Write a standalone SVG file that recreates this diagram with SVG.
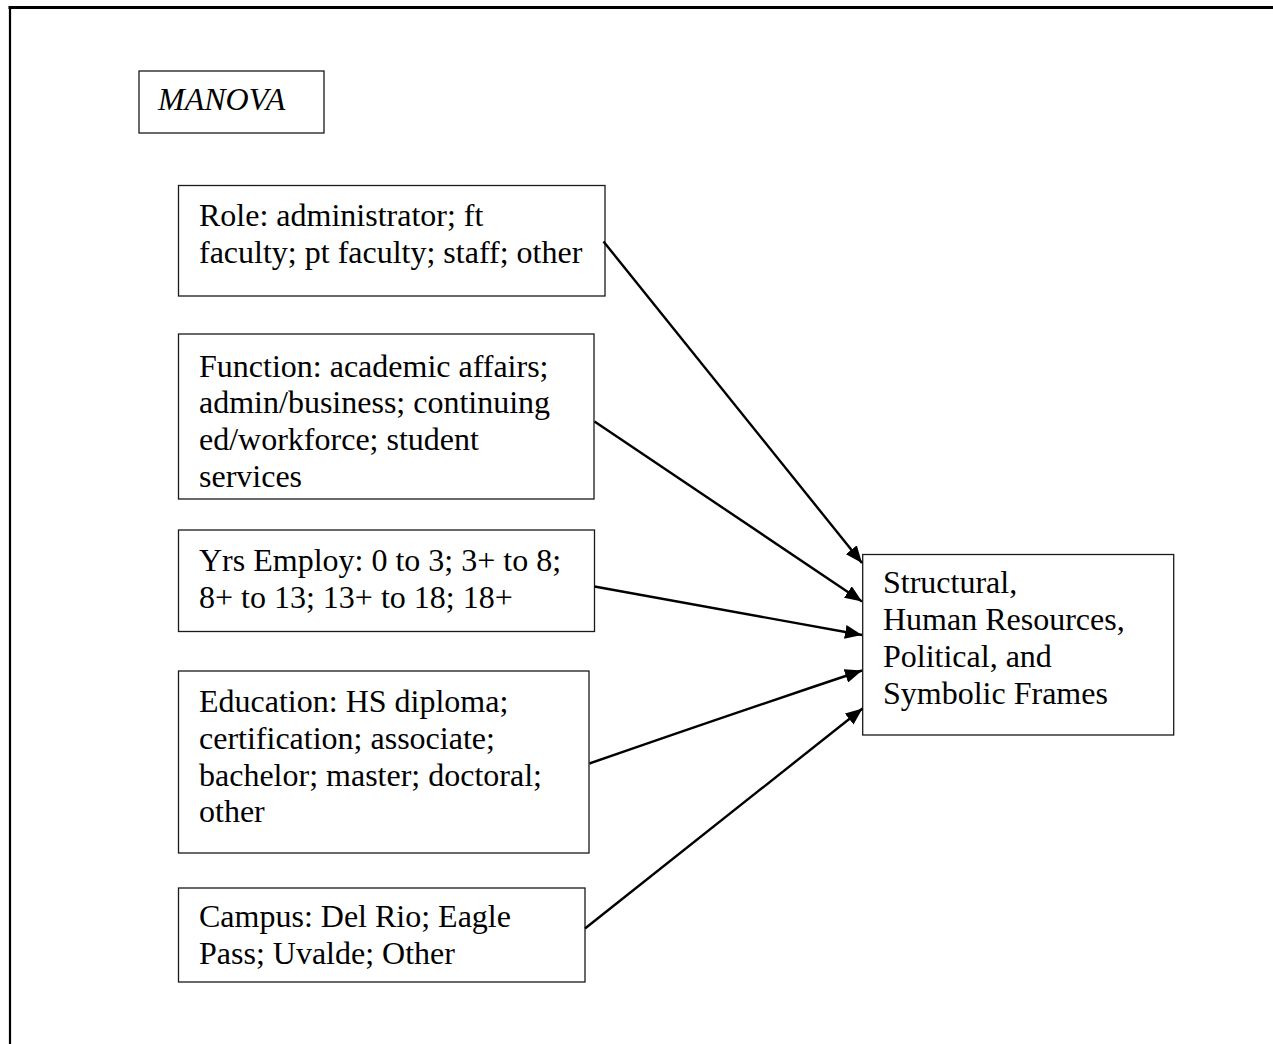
<svg xmlns="http://www.w3.org/2000/svg" width="1273" height="1044" viewBox="0 0 1273 1044">
<style>
.box{fill:#fff;stroke:#1a1a1a;stroke-width:1.3}
.t{font-family:"Liberation Serif","Times New Roman",serif;font-size:32px;fill:#000}
.i{font-style:italic}
.c{stroke:#000;stroke-width:2.4;fill:none}
</style>
<defs>
<marker id="ah" markerUnits="userSpaceOnUse" markerWidth="18" markerHeight="14" refX="17" refY="7" orient="auto" viewBox="0 0 18 14">
<path d="M0,0 L17,7 L0,14 z" fill="#000"/>
</marker>
</defs>
<rect width="1273" height="1044" fill="#fff"/>
<g id="frame">
<line x1="8.5" y1="7.5" x2="1273" y2="7.5" stroke="#000" stroke-width="3"/>
<line x1="10" y1="6" x2="10" y2="1044" stroke="#000" stroke-width="2.2"/>
</g>
<g id="manova">
<rect class="box" x="139" y="71" width="185" height="62"/>
<text class="t i" x="158" y="110">MANOVA</text>
</g>
<g id="role">
<rect class="box" x="178.5" y="185.5" width="426.5" height="110.5"/>
<text class="t" x="199" y="226">Role: administrator; ft</text>
<text class="t" x="199" y="263">faculty; pt faculty; staff; other</text>
</g>
<g id="function">
<rect class="box" x="178.5" y="334" width="415.5" height="165"/>
<text class="t" x="199" y="376.5">Function: academic affairs;</text>
<text class="t" x="199" y="413">admin/business; continuing</text>
<text class="t" x="199" y="450">ed/workforce; student</text>
<text class="t" x="199" y="486.5">services</text>
</g>
<g id="yrs">
<rect class="box" x="178.5" y="530" width="416" height="101.5"/>
<text class="t" x="199" y="570.5">Yrs Employ: 0 to 3; 3+ to 8;</text>
<text class="t" x="199" y="607.5">8+ to 13; 13+ to 18; 18+</text>
</g>
<g id="education">
<rect class="box" x="178.5" y="671" width="410.5" height="182"/>
<text class="t" x="199" y="711.5">Education: HS diploma;</text>
<text class="t" x="199" y="748.5">certification; associate;</text>
<text class="t" x="199" y="785.5">bachelor; master; doctoral;</text>
<text class="t" x="199" y="822">other</text>
</g>
<g id="campus">
<rect class="box" x="178.5" y="888" width="406.5" height="94"/>
<text class="t" x="199" y="927">Campus: Del Rio; Eagle</text>
<text class="t" x="199" y="963.5">Pass; Uvalde; Other</text>
</g>
<g id="frames">
<rect class="box" x="862.7" y="554.5" width="311" height="180.5"/>
<text class="t" x="883" y="593">Structural,</text>
<text class="t" x="883" y="630">Human Resources,</text>
<text class="t" x="883" y="667">Political, and</text>
<text class="t" x="883" y="703.5">Symbolic Frames</text>
</g>
<g id="connectors">
<line class="c" x1="603.5" y1="241.5" x2="862" y2="563" marker-end="url(#ah)"/>
<line class="c" x1="594.5" y1="421.5" x2="862" y2="601.5" marker-end="url(#ah)"/>
<line class="c" x1="594.5" y1="586.5" x2="862" y2="635" marker-end="url(#ah)"/>
<path class="c" d="M589.5,763.5 Q720,718 862,670.5" marker-end="url(#ah)"/>
<line class="c" x1="585" y1="928.5" x2="862.5" y2="708.5" marker-end="url(#ah)"/>
</g>
</svg>
